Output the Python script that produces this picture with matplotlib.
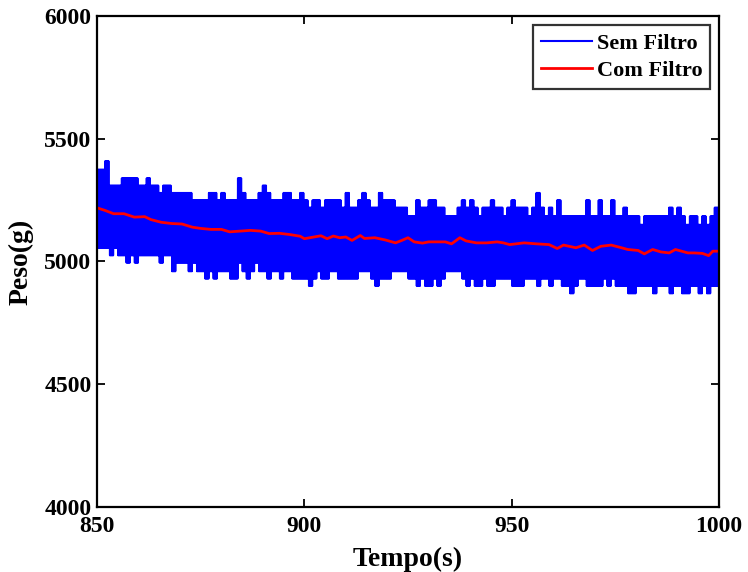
import numpy as np
import matplotlib
matplotlib.use("Agg")
import matplotlib.pyplot as plt

# upper / lower edge of the raw signal, one value per second (850 .. 1000 s)
sem_top = [5375, 5375, 5410, 5310, 5310, 5310, 5340, 5340, 5340, 5340, 5310, 5310, 5340, 5310, 5310,
           5280, 5310, 5310, 5280, 5280, 5280, 5280, 5280, 5250, 5250, 5250, 5250, 5280, 5280, 5250,
           5280, 5250, 5250, 5250, 5340, 5280, 5250, 5250, 5250, 5280, 5310, 5280, 5250, 5250, 5250,
           5280, 5280, 5250, 5250, 5280, 5250, 5220, 5250, 5250, 5220, 5250, 5250, 5250, 5250, 5220,
           5280, 5220, 5220, 5250, 5280, 5250, 5220, 5220, 5280, 5250, 5250, 5250, 5220, 5220, 5220,
           5185, 5185, 5250, 5220, 5220, 5250, 5250, 5220, 5220, 5185, 5185, 5185, 5220, 5250, 5220,
           5250, 5220, 5185, 5220, 5220, 5250, 5220, 5220, 5185, 5220, 5250, 5220, 5220, 5220, 5185,
           5220, 5280, 5220, 5185, 5220, 5185, 5250, 5185, 5185, 5185, 5185, 5185, 5185, 5250, 5185,
           5185, 5250, 5185, 5185, 5250, 5185, 5185, 5220, 5185, 5185, 5185, 5150, 5185, 5185, 5185,
           5185, 5185, 5185, 5220, 5185, 5220, 5185, 5150, 5185, 5185, 5150, 5185, 5150, 5185, 5220, 5220]
sem_bot = [5055, 5055, 5055, 5025, 5055, 5025, 5025, 4995, 5025, 4995, 5025, 5025, 5025, 5025, 5025,
           4995, 5025, 5025, 4960, 4995, 4995, 4995, 4960, 4995, 4960, 4960, 4930, 4960, 4930, 4960,
           4960, 4960, 4930, 4930, 4995, 4960, 4930, 4960, 4995, 4960, 4960, 4930, 4960, 4960, 4930,
           4960, 4960, 4930, 4930, 4930, 4930, 4900, 4930, 4960, 4930, 4930, 4960, 4960, 4930, 4930,
           4930, 4930, 4930, 4960, 4960, 4960, 4930, 4900, 4930, 4930, 4930, 4960, 4960, 4960, 4960,
           4930, 4930, 4900, 4930, 4900, 4900, 4930, 4900, 4930, 4960, 4960, 4960, 4960, 4930, 4900,
           4930, 4900, 4900, 4930, 4900, 4900, 4930, 4930, 4930, 4930, 4900, 4900, 4900, 4930, 4930,
           4930, 4900, 4930, 4930, 4900, 4930, 4930, 4900, 4900, 4870, 4900, 4930, 4930, 4900, 4900,
           4900, 4900, 4930, 4900, 4930, 4900, 4900, 4900, 4870, 4870, 4900, 4900, 4900, 4900, 4870,
           4900, 4900, 4900, 4870, 4900, 4900, 4870, 4870, 4900, 4900, 4870, 4900, 4870, 4900, 4900, 4870]

# filtered signal
com_t = [850, 852, 854, 856.5, 859, 861.5, 863, 865.5, 868, 870.5, 873, 875, 877.5, 880, 882,
         884.5, 887, 889.5, 891.5, 894, 896.5, 899, 900, 902, 904, 905.5, 907, 908.5, 910, 911.5,
         913.5, 914.5, 917, 919.5, 922, 923.5, 925, 926.5, 928.5, 930, 931.5, 934, 935.5, 937.5, 939,
         941.5, 944, 946.5, 948, 949.5, 953, 956, 959, 961, 962.5, 965.5, 967.5, 969.5, 971.5, 974,
         976.5, 978, 980.5, 982, 984, 986, 988, 989.5, 991, 992.5, 994, 996, 997.5, 998.5, 1000]
com_v = [5219, 5208, 5195, 5195, 5181, 5183, 5171, 5160, 5155, 5153, 5140, 5135, 5131, 5131, 5121,
         5124, 5127, 5124, 5114, 5115, 5110, 5103, 5093, 5099, 5105, 5093, 5104, 5097, 5100, 5086,
         5106, 5094, 5097, 5088, 5076, 5086, 5097, 5080, 5075, 5080, 5080, 5080, 5072, 5097, 5084,
         5076, 5076, 5080, 5076, 5069, 5076, 5072, 5069, 5053, 5067, 5056, 5067, 5045, 5062, 5067,
         5056, 5049, 5045, 5031, 5049, 5039, 5035, 5049, 5042, 5035, 5035, 5033, 5024, 5042, 5042]

# raw signal: top / bottom alternate eight times per second
sem_v = np.column_stack([sem_top, sem_bot] * 4).ravel()
sem_t = 850 + np.arange(len(sem_v)) * 0.125

plt.rcParams['font.family'] = ['Liberation Serif', 'DejaVu Serif']
plt.rcParams['font.weight'] = 'bold'

fig = plt.figure(figsize=(7.48, 5.72), dpi=100)
ax = fig.add_axes([0.1297, 0.1145, 0.8315, 0.8567])

ax.plot(sem_t, sem_v, color='#0000ff', lw=1.5, label='Sem Filtro')
ax.plot(com_t, com_v, color='#ff0000', lw=2.0, label='Com Filtro')

ax.set_xlim(850, 1000)
ax.set_ylim(4000, 6000)
ax.set_xticks([850, 900, 950, 1000])
ax.set_yticks([4000, 4500, 5000, 5500, 6000])
ax.tick_params(direction='in', top=True, right=True, length=6, width=1.3, labelsize=17)
ax.tick_params(axis='x', pad=7)
ax.tick_params(axis='y', pad=4)
for s in ax.spines.values():
    s.set_linewidth(1.6)

ax.set_xlabel('Tempo(s)', fontsize=20, fontweight='bold', labelpad=7)
ax.set_ylabel('Peso(g)', fontsize=20, fontweight='bold', labelpad=8)

leg = ax.legend(loc='upper right', fontsize=16, frameon=True, fancybox=False,
                edgecolor='black', handlelength=2.3, handletextpad=0.2,
                borderpad=0.35, labelspacing=0.3, borderaxespad=0.4)
leg.get_frame().set_linewidth(1.6)
for t in leg.get_texts():
    t.set_fontweight('bold')

fig.savefig('out.png', dpi=100)
